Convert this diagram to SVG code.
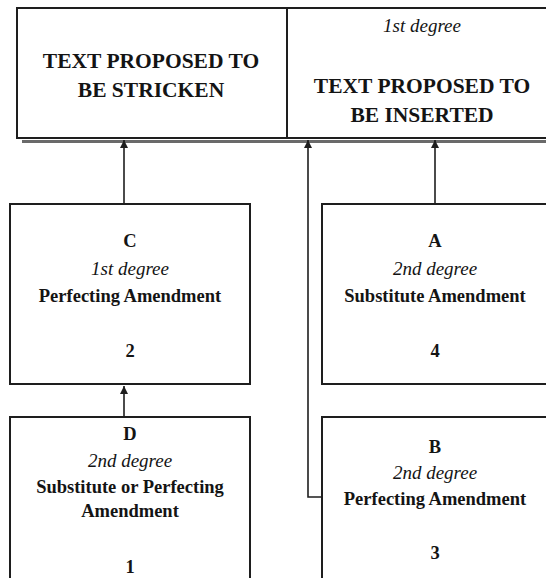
<svg xmlns="http://www.w3.org/2000/svg" width="546" height="578" viewBox="0 0 546 578">
<style>
.box{fill:#fff;stroke:#1e1e1e;stroke-width:2}
.shadow{fill:none;stroke:#6a6a6a;stroke-width:3}
.conn{fill:none;stroke:#1e1e1e;stroke-width:1.6}
.big{font-family:'Liberation Serif',serif;font-size:21.5px;font-weight:bold;fill:#141414;text-anchor:middle}
.b{font-family:'Liberation Serif',serif;font-size:18.5px;font-weight:bold;fill:#141414;text-anchor:middle}
.i{font-family:'Liberation Serif',serif;font-size:19px;font-style:italic;fill:#141414;text-anchor:middle}
</style>
<defs>
<marker id="ah" viewBox="0 0 10 10" refX="10" refY="5" markerWidth="12" markerHeight="8" markerUnits="userSpaceOnUse" orient="auto">
<path d="M0,0 L10,5 L0,10 z" fill="#1e1e1e"/>
</marker>
</defs>
<rect width="546" height="578" fill="#fff"/>

<g id="top">
<path class="shadow" d="M22,141.5 H560"/>
<rect class="box" x="17" y="8" width="545" height="130"/>
<line x1="287" y1="8" x2="287" y2="138" stroke="#1e1e1e" stroke-width="2"/>
<text class="big" x="151" y="68">TEXT PROPOSED TO</text>
<text class="big" x="151" y="97">BE STRICKEN</text>
<text class="i" x="422" y="32">1st degree</text>
<text class="big" x="422" y="93">TEXT PROPOSED TO</text>
<text class="big" x="422" y="122">BE INSERTED</text>
</g>

<g id="C">
<rect class="box" x="10" y="204" width="240" height="180"/>
<text class="b" x="130" y="247">C</text>
<text class="i" x="130" y="275">1st degree</text>
<text class="b" x="130" y="302">Perfecting Amendment</text>
<text class="b" x="130" y="357">2</text>
</g>

<g id="A">
<rect class="box" x="322" y="204" width="240" height="180"/>
<text class="b" x="435" y="247">A</text>
<text class="i" x="435" y="275">2nd degree</text>
<text class="b" x="435" y="302">Substitute Amendment</text>
<text class="b" x="435" y="357">4</text>
</g>

<g id="D">
<rect class="box" x="10" y="417" width="240" height="180"/>
<text class="b" x="130" y="440">D</text>
<text class="i" x="130" y="467">2nd degree</text>
<text class="b" x="130" y="493">Substitute or Perfecting</text>
<text class="b" x="130" y="517">Amendment</text>
<text class="b" x="130" y="573">1</text>
</g>

<g id="B">
<rect class="box" x="322" y="417" width="240" height="180"/>
<text class="b" x="435" y="453">B</text>
<text class="i" x="435" y="479">2nd degree</text>
<text class="b" x="435" y="505">Perfecting Amendment</text>
<text class="b" x="435" y="559">3</text>
</g>

<g id="connectors">
<path class="conn" d="M124,204 V140" marker-end="url(#ah)"/>
<path class="conn" d="M435,204 V140" marker-end="url(#ah)"/>
<path class="conn" d="M322,497 H308 V140" marker-end="url(#ah)"/>
<path class="conn" d="M124,417 V386" marker-end="url(#ah)"/>
</g>
</svg>
